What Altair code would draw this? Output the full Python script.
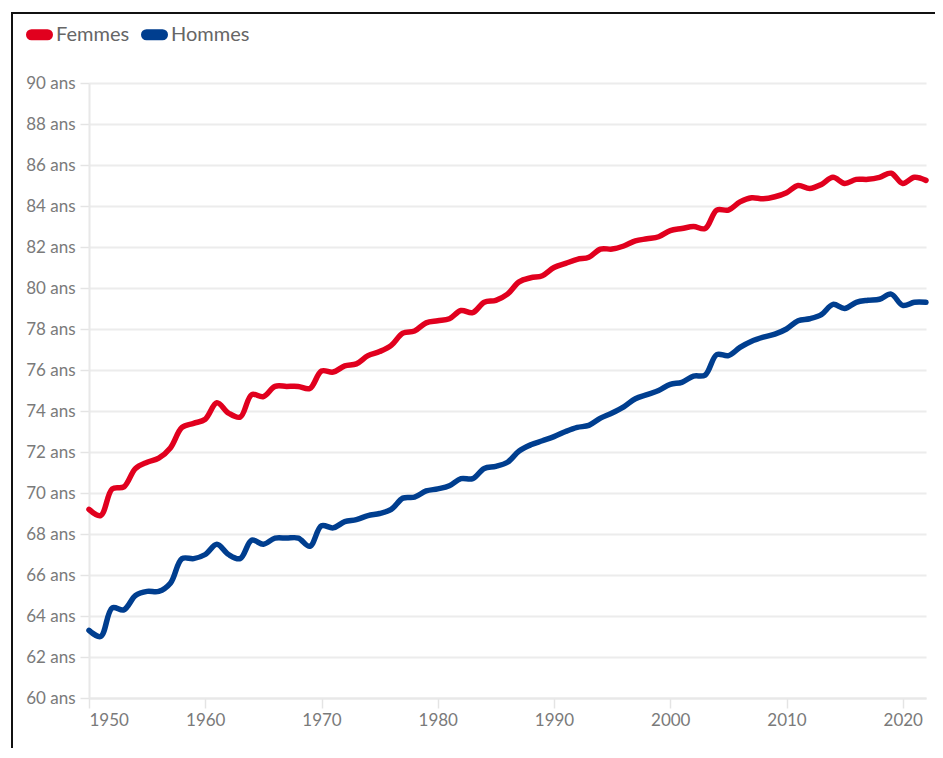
import altair as alt
import pandas as pd

years = list(range(1950, 2023))
femmes = [69.2, 68.9, 70.2, 70.3, 71.2, 71.5, 71.7, 72.2, 73.2, 73.4,
          73.6, 74.4, 73.9, 73.7, 74.8, 74.7, 75.2, 75.2, 75.2, 75.1,
          75.95, 75.9, 76.2, 76.3, 76.7, 76.9, 77.2, 77.8, 77.9, 78.3,
          78.4, 78.5, 78.9, 78.8, 79.3, 79.4, 79.7, 80.3, 80.5, 80.6,
          81.0, 81.2, 81.4, 81.5, 81.9, 81.9, 82.05, 82.3, 82.4, 82.5,
          82.8, 82.9, 83.0, 82.9, 83.8, 83.8, 84.2, 84.4, 84.35, 84.45,
          84.65, 85.0, 84.85, 85.05, 85.4, 85.1, 85.3, 85.3, 85.4, 85.6,
          85.1, 85.4, 85.25]
hommes = [63.3, 63.0, 64.4, 64.3, 65.0, 65.2, 65.2, 65.6, 66.8, 66.8,
          67.0, 67.5, 67.0, 66.8, 67.7, 67.5, 67.8, 67.8, 67.8, 67.4,
          68.4, 68.3, 68.6, 68.7, 68.9, 69.0, 69.2, 69.75, 69.8, 70.1,
          70.2, 70.35, 70.7, 70.7, 71.2, 71.3, 71.5, 72.05, 72.35, 72.55,
          72.75, 73.0, 73.2, 73.3, 73.65, 73.9, 74.2, 74.6, 74.8, 75.0,
          75.3, 75.4, 75.7, 75.75, 76.75, 76.7, 77.1, 77.4, 77.6, 77.75,
          78.0, 78.4, 78.5, 78.7, 79.2, 79.0, 79.3, 79.4, 79.45, 79.7,
          79.15, 79.3, 79.3]
series_names = ["Femmes", "Hommes"]
series_colors = ["#E1001E", "#003E8F"]
y_ticks = list(range(60, 91, 2))
x_ticks = list(range(1950, 2021, 10))

rows = []
for name, vals in zip(series_names, [femmes, hommes]):
    for yr, v in zip(years, vals):
        rows.append({"annee": yr, "esperance": v, "sexe": name})
df = pd.DataFrame(rows)

FONT = "Lato"
PILL = ("M -0.8,-0.2 L 0.8,-0.2 A 0.2,0.2 0 0 1 0.8,0.2 "
        "L -0.8,0.2 A 0.2,0.2 0 0 1 -0.8,-0.2 Z")

lines = alt.Chart(df).mark_line(
    strokeWidth=5.5, interpolate="catmull-rom", strokeCap="round", strokeJoin="round"
).encode(
    x=alt.X("annee:Q",
            scale=alt.Scale(domain=[1950, 2022], nice=False, zero=False),
            axis=alt.Axis(values=x_ticks, format="d", title=None, grid=False,
                          tickSize=10, tickColor="#e4e4e4", tickWidth=1.5,
                          domainColor="#e8e8e8", domainWidth=2,
                          labelPadding=4, labelFontSize=17, labelColor="#7a7a7a",
                          labelFont=FONT)),
    y=alt.Y("esperance:Q",
            scale=alt.Scale(domain=[60, 90], nice=False, zero=False),
            axis=alt.Axis(values=y_ticks, labelExpr="datum.value + ' ans'", title=None,
                          tickSize=9, tickColor="#e4e4e4", tickWidth=1.5,
                          domainColor="#e8e8e8", domainWidth=2,
                          gridColor="#ececec", gridWidth=2,
                          labelPadding=5, labelFontSize=17, labelColor="#7a7a7a",
                          labelFont=FONT)),
    color=alt.Color("sexe:N",
                    scale=alt.Scale(domain=series_names, range=series_colors),
                    legend=alt.Legend(title=None, orient="none", direction="horizontal",
                                      legendX=-63, legendY=-62, padding=0,
                                      symbolType=PILL, symbolSize=400,
                                      symbolStrokeWidth=7,
                                      labelFontSize=20, labelColor="#666666",
                                      labelFont=FONT, labelOffset=3,
                                      columnPadding=0)),
)

frame_df = pd.DataFrame({"k": [0]})
border_left = alt.Chart(frame_df).mark_rule(color="#111111", strokeWidth=2, clip=False).encode(
    x=alt.value(-77), y=alt.value(-70), y2=alt.value(690))
border_top = alt.Chart(frame_df).mark_rule(color="#111111", strokeWidth=2, clip=False).encode(
    x=alt.value(-78), x2=alt.value(870), y=alt.value(-70))

chart = alt.layer(lines, border_left, border_top).properties(
    width=837, height=615,
    autosize=alt.AutoSizeParams(type="none"),
    padding={"left": 81, "top": 75, "right": 9, "bottom": 50},
).configure_view(stroke=None)

chart.save("out.html", embed_options={"renderer": "svg", "actions": False})
